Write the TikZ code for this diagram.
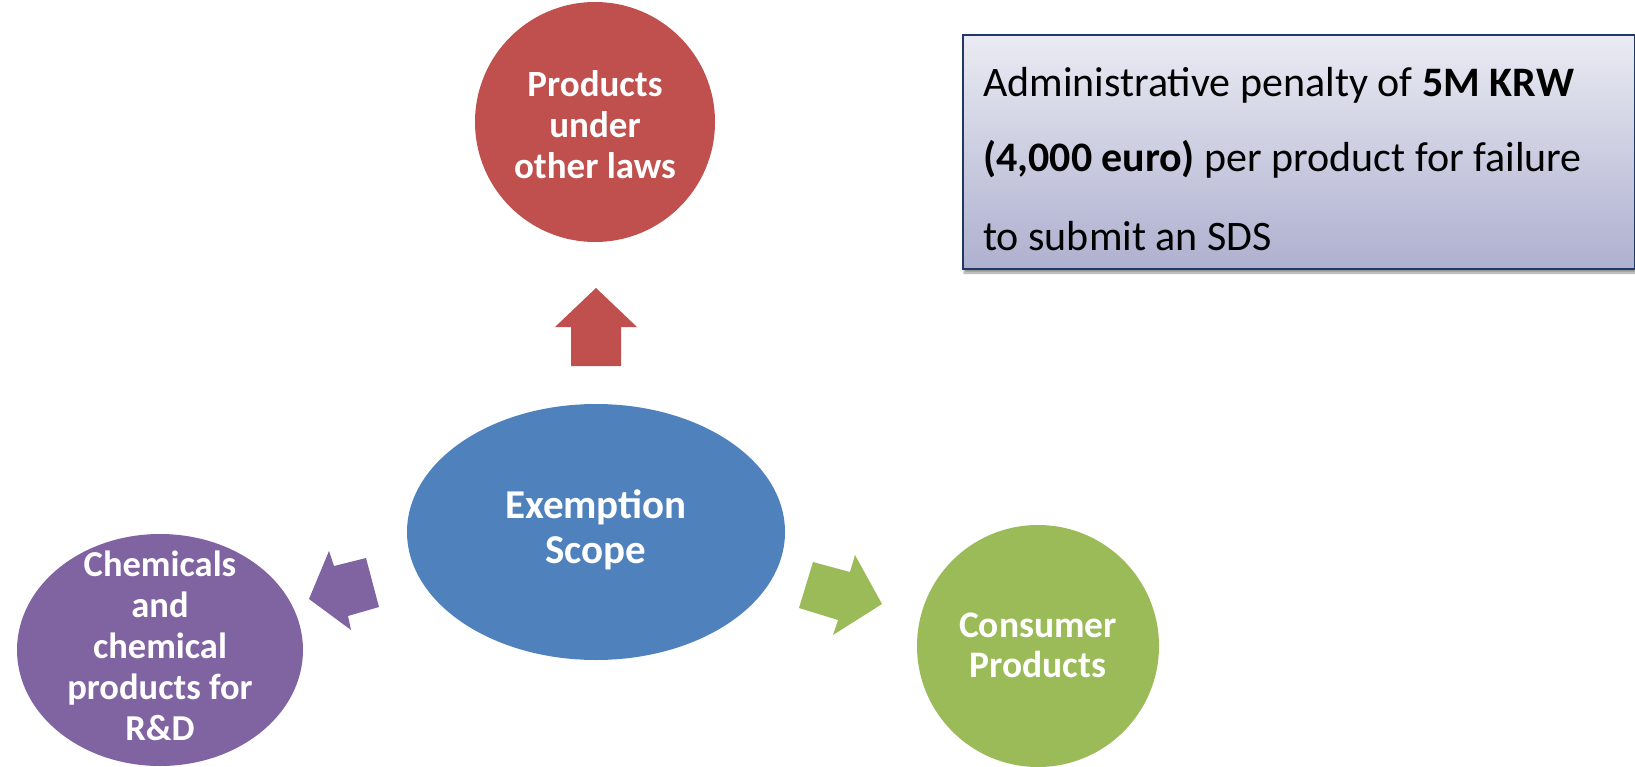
\documentclass[tikz,border=0pt]{standalone}
\usepackage{fontspec}
\setmainfont{Carlito}
\usetikzlibrary{shapes.geometric,shadows.blur}
\definecolor{cred}{RGB}{192,80,77}
\definecolor{cblue}{RGB}{79,129,189}
\definecolor{cpurple}{RGB}{128,100,162}
\definecolor{cgreen}{RGB}{155,187,89}
\definecolor{cnavy}{RGB}{32,56,100}
\definecolor{boxtop}{RGB}{234,235,243}
\definecolor{boxbot}{RGB}{174,176,207}
\begin{document}
\begin{tikzpicture}[x=1pt,y=-1pt,
  blob/.style={inner sep=0pt, outer sep=0pt},
  lbl/.style={align=center, text=white, inner sep=0pt, font=\bfseries\fontsize{37}{41}\selectfont},
  boxtext/.style={anchor=base west, inner sep=0pt, font=\fontsize{42}{50}\selectfont}]
\useasboundingbox (0,0) rectangle (1635,767);
% shapes
\node[blob, circle, fill=cred, minimum size=240pt] (red) at (595,122) {};
\node[blob, ellipse, fill=cblue, minimum width=378pt, minimum height=256pt] (blue) at (596,532) {};
\node[blob, ellipse, fill=cpurple, minimum width=286pt, minimum height=232pt] (purple) at (160,650) {};
\node[blob, circle, fill=cgreen, minimum size=242pt] (green) at (1038,646) {};
% labels
\node[lbl] (redt) at (595,125) {Products\\under\\other laws};
\node[lbl, font=\bfseries\fontsize{41}{45}\selectfont] (bluet) at (596,530) {Exemption\\Scope};
\node[lbl, font=\bfseries\fontsize{36.5}{41}\selectfont] (purplet) at (160,646) {Chemicals\\and\\chemical\\products for\\R\&D};
\node[lbl, font=\bfseries\fontsize{37.5}{40}\selectfont] (greent) at (1038,645) {Consumer\\Products};
% block arrows
\fill[cred] (596,288) -- (637,327) -- (621,327) -- (621,366) -- (571,366) -- (571,327) -- (555,327) -- cycle;
\fill[cpurple] (309,599) -- (329,551) -- (334,566) -- (366,558) -- (379,607) -- (348,616) -- (351,630) -- cycle;
\fill[cgreen] (882,604) -- (833,635) -- (838,620) -- (799,608) -- (813,562) -- (850,572) -- (855,555) -- cycle;
% penalty box
\node[draw=cnavy, line width=2pt, top color=boxtop, bottom color=boxbot,
      minimum width=672pt, minimum height=234pt, anchor=north west, inner sep=0pt,
      blur shadow={shadow xshift=1pt, shadow yshift=-4pt, shadow blur steps=6, shadow opacity=40}] (box) at (962,34) {};
\node[boxtext] (t1) at (983,97) {Administrative penalty of \textbf{5M KRW}};
\node[boxtext] (t2) at (983,172) {\textbf{(4,000 euro)} per product for failure};
\node[boxtext] (t3) at (983,251) {to submit an SDS};
\end{tikzpicture}
\end{document}
